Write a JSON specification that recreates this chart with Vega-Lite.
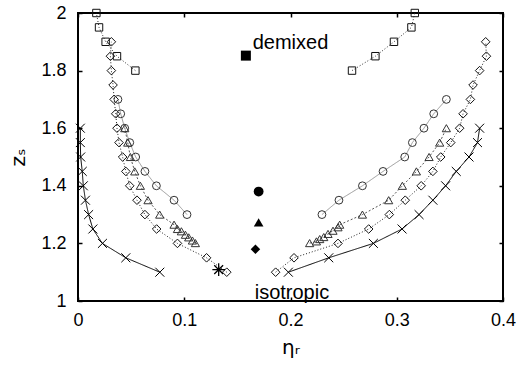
{
  "$schema": "https://vega.github.io/schema/vega-lite/v6.json",
  "width": 425,
  "height": 288,
  "autosize": {"type": "none"},
  "padding": {"left": 78, "top": 13, "right": 17, "bottom": 66},
  "background": "white",
  "config": {
    "view": {"stroke": "black", "strokeWidth": 2},
    "font": "Liberation Sans",
    "axis": {"grid": false, "domain": false, "labelFlush": false, "labelOverlap": false, "tickColor": "black", "tickWidth": 1.5, "labelColor": "black", "titleColor": "black", "labelFontSize": 18, "titleFontSize": 20, "titleFontWeight": "normal", "labelFont": "Liberation Sans", "titleFont": "DejaVu Sans"}
  },
  "datasets": {
    "curves": [
      {"s": "cross", "b": "crossL", "x": 0.0022, "y": 1.60},
      {"s": "cross", "b": "crossL", "x": 0.0022, "y": 1.55},
      {"s": "cross", "b": "crossL", "x": 0.0025, "y": 1.50},
      {"s": "cross", "b": "crossL", "x": 0.004, "y": 1.45},
      {"s": "cross", "b": "crossL", "x": 0.005, "y": 1.40},
      {"s": "cross", "b": "crossL", "x": 0.007, "y": 1.35},
      {"s": "cross", "b": "crossL", "x": 0.010, "y": 1.30},
      {"s": "cross", "b": "crossL", "x": 0.014, "y": 1.25},
      {"s": "cross", "b": "crossL", "x": 0.023, "y": 1.20},
      {"s": "cross", "b": "crossL", "x": 0.045, "y": 1.15},
      {"s": "cross", "b": "crossL", "x": 0.077, "y": 1.10},
      {"s": "cross", "b": "crossR", "x": 0.378, "y": 1.60},
      {"s": "cross", "b": "crossR", "x": 0.376, "y": 1.55},
      {"s": "cross", "b": "crossR", "x": 0.368, "y": 1.50},
      {"s": "cross", "b": "crossR", "x": 0.356, "y": 1.45},
      {"s": "cross", "b": "crossR", "x": 0.346, "y": 1.40},
      {"s": "cross", "b": "crossR", "x": 0.334, "y": 1.35},
      {"s": "cross", "b": "crossR", "x": 0.321, "y": 1.30},
      {"s": "cross", "b": "crossR", "x": 0.305, "y": 1.25},
      {"s": "cross", "b": "crossR", "x": 0.278, "y": 1.20},
      {"s": "cross", "b": "crossR", "x": 0.236, "y": 1.15},
      {"s": "cross", "b": "crossR", "x": 0.198, "y": 1.10},
      {"s": "diamond", "b": "diaL", "x": 0.0314, "y": 1.90},
      {"s": "diamond", "b": "diaL", "x": 0.0305, "y": 1.85},
      {"s": "diamond", "b": "diaL", "x": 0.0314, "y": 1.80},
      {"s": "diamond", "b": "diaL", "x": 0.033, "y": 1.75},
      {"s": "diamond", "b": "diaL", "x": 0.034, "y": 1.70},
      {"s": "diamond", "b": "diaL", "x": 0.0355, "y": 1.65},
      {"s": "diamond", "b": "diaL", "x": 0.0367, "y": 1.60},
      {"s": "diamond", "b": "diaL", "x": 0.0386, "y": 1.55},
      {"s": "diamond", "b": "diaL", "x": 0.042, "y": 1.50},
      {"s": "diamond", "b": "diaL", "x": 0.045, "y": 1.45},
      {"s": "diamond", "b": "diaL", "x": 0.0487, "y": 1.40},
      {"s": "diamond", "b": "diaL", "x": 0.0555, "y": 1.35},
      {"s": "diamond", "b": "diaL", "x": 0.063, "y": 1.30},
      {"s": "diamond", "b": "diaL", "x": 0.074, "y": 1.25},
      {"s": "diamond", "b": "diaL", "x": 0.0936, "y": 1.20},
      {"s": "diamond", "b": "diaL", "x": 0.121, "y": 1.15},
      {"s": "diamond", "b": "diaL", "x": 0.140, "y": 1.10},
      {"s": "diamond", "b": "diaR", "x": 0.3837, "y": 1.90},
      {"s": "diamond", "b": "diaR", "x": 0.3844, "y": 1.85},
      {"s": "diamond", "b": "diaR", "x": 0.378, "y": 1.80},
      {"s": "diamond", "b": "diaR", "x": 0.3718, "y": 1.75},
      {"s": "diamond", "b": "diaR", "x": 0.3693, "y": 1.70},
      {"s": "diamond", "b": "diaR", "x": 0.3624, "y": 1.65},
      {"s": "diamond", "b": "diaR", "x": 0.3592, "y": 1.60},
      {"s": "diamond", "b": "diaR", "x": 0.3508, "y": 1.55},
      {"s": "diamond", "b": "diaR", "x": 0.3414, "y": 1.50},
      {"s": "diamond", "b": "diaR", "x": 0.334, "y": 1.45},
      {"s": "diamond", "b": "diaR", "x": 0.323, "y": 1.40},
      {"s": "diamond", "b": "diaR", "x": 0.308, "y": 1.35},
      {"s": "diamond", "b": "diaR", "x": 0.293, "y": 1.30},
      {"s": "diamond", "b": "diaR", "x": 0.2736, "y": 1.25},
      {"s": "diamond", "b": "diaR", "x": 0.2447, "y": 1.20},
      {"s": "diamond", "b": "diaR", "x": 0.2033, "y": 1.15},
      {"s": "diamond", "b": "diaR", "x": 0.186, "y": 1.10},
      {"s": "triangle", "b": "triL", "x": 0.044, "y": 1.60},
      {"s": "triangle", "b": "triL", "x": 0.0468, "y": 1.55},
      {"s": "triangle", "b": "triL", "x": 0.0493, "y": 1.50},
      {"s": "triangle", "b": "triL", "x": 0.0534, "y": 1.45},
      {"s": "triangle", "b": "triL", "x": 0.0587, "y": 1.40},
      {"s": "triangle", "b": "triL", "x": 0.0659, "y": 1.35},
      {"s": "triangle", "b": "triL", "x": 0.0769, "y": 1.30},
      {"s": "triangle", "b": "triL", "x": 0.0904, "y": 1.265},
      {"s": "triangle", "b": "triL", "x": 0.0936, "y": 1.25},
      {"s": "triangle", "b": "triL", "x": 0.0973, "y": 1.242},
      {"s": "triangle", "b": "triL", "x": 0.1011, "y": 1.230},
      {"s": "triangle", "b": "triL", "x": 0.1042, "y": 1.221},
      {"s": "triangle", "b": "triL", "x": 0.1077, "y": 1.210},
      {"s": "triangle", "b": "triL", "x": 0.1105, "y": 1.201},
      {"s": "triangle", "b": "triR", "x": 0.3467, "y": 1.60},
      {"s": "triangle", "b": "triR", "x": 0.3404, "y": 1.55},
      {"s": "triangle", "b": "triR", "x": 0.3304, "y": 1.50},
      {"s": "triangle", "b": "triR", "x": 0.3185, "y": 1.45},
      {"s": "triangle", "b": "triR", "x": 0.3053, "y": 1.40},
      {"s": "triangle", "b": "triR", "x": 0.2924, "y": 1.35},
      {"s": "triangle", "b": "triR", "x": 0.2677, "y": 1.30},
      {"s": "triangle", "b": "triR", "x": 0.2463, "y": 1.265},
      {"s": "triangle", "b": "triR", "x": 0.2447, "y": 1.256},
      {"s": "triangle", "b": "triR", "x": 0.2400, "y": 1.244},
      {"s": "triangle", "b": "triR", "x": 0.2353, "y": 1.233},
      {"s": "triangle", "b": "triR", "x": 0.2313, "y": 1.222},
      {"s": "triangle", "b": "triR", "x": 0.2275, "y": 1.215},
      {"s": "triangle", "b": "triR", "x": 0.2244, "y": 1.207},
      {"s": "triangle", "b": "triR", "x": 0.2180, "y": 1.201},
      {"s": "circle", "b": "cirL", "x": 0.0376, "y": 1.70},
      {"s": "circle", "b": "cirL", "x": 0.0402, "y": 1.65},
      {"s": "circle", "b": "cirL", "x": 0.044, "y": 1.60},
      {"s": "circle", "b": "cirL", "x": 0.0487, "y": 1.55},
      {"s": "circle", "b": "cirL", "x": 0.0543, "y": 1.50},
      {"s": "circle", "b": "cirL", "x": 0.063, "y": 1.45},
      {"s": "circle", "b": "cirL", "x": 0.0738, "y": 1.40},
      {"s": "circle", "b": "cirL", "x": 0.0904, "y": 1.35},
      {"s": "circle", "b": "cirL", "x": 0.1026, "y": 1.30},
      {"s": "circle", "b": "cirR", "x": 0.2296, "y": 1.30},
      {"s": "circle", "b": "cirR", "x": 0.2456, "y": 1.35},
      {"s": "circle", "b": "cirR", "x": 0.2677, "y": 1.40},
      {"s": "circle", "b": "cirR", "x": 0.2871, "y": 1.45},
      {"s": "circle", "b": "cirR", "x": 0.3075, "y": 1.50},
      {"s": "circle", "b": "cirR", "x": 0.3147, "y": 1.55},
      {"s": "circle", "b": "cirR", "x": 0.3256, "y": 1.60},
      {"s": "circle", "b": "cirR", "x": 0.3348, "y": 1.65},
      {"s": "circle", "b": "cirR", "x": 0.3467, "y": 1.70},
      {"s": "square", "b": "sqL", "x": 0.0173, "y": 2.00},
      {"s": "square", "b": "sqL", "x": 0.0198, "y": 1.95},
      {"s": "square", "b": "sqL", "x": 0.026, "y": 1.90},
      {"s": "square", "b": "sqL", "x": 0.0367, "y": 1.85},
      {"s": "square", "b": "sqL", "x": 0.054, "y": 1.80},
      {"s": "square", "b": "sqR", "x": 0.317, "y": 2.00},
      {"s": "square", "b": "sqR", "x": 0.3138, "y": 1.95},
      {"s": "square", "b": "sqR", "x": 0.2974, "y": 1.90},
      {"s": "square", "b": "sqR", "x": 0.2799, "y": 1.85},
      {"s": "square", "b": "sqR", "x": 0.2579, "y": 1.80}
    ],
    "keys": [
      {"k": "square", "x": 0.158, "y": 1.852},
      {"k": "circle", "x": 0.170, "y": 1.38},
      {"k": "triangle", "x": 0.170, "y": 1.273},
      {"k": "diamond", "x": 0.167, "y": 1.18}
    ],
    "labels": [
      {"t": "demixed", "x": 0.1644, "y": 1.876},
      {"t": "isotropic", "x": 0.1663, "y": 1.008}
    ],
    "star": [{"x": 0.1324, "y": 1.109}]
  },
  "resolve": {"axis": {"x": "independent", "y": "independent"}, "scale": {"color": "independent", "size": "independent", "shape": "independent"}},
  "layer": [
    {
      "data": {"name": "curves"},
      "mark": {"type": "line", "strokeWidth": 1},
      "encoding": {
        "x": {"field": "x", "type": "quantitative", "scale": {"domain": [0, 0.4], "nice": false, "zero": false},
              "axis": {"orient": "bottom", "values": [0, 0.1, 0.2, 0.3, 0.4], "format": "~g", "tickSize": -4, "labelPadding": 14, "title": "ηᵣ", "titlePadding": 8}},
        "y": {"field": "y", "type": "quantitative", "scale": {"domain": [1, 2], "nice": false, "zero": false},
              "axis": {"orient": "left", "values": [1, 1.2, 1.4, 1.6, 1.8, 2], "format": "~g", "tickSize": -4, "labelPadding": 16, "title": "zₛ", "titlePadding": 12}},
        "detail": {"field": "b"},
        "order": {"field": "y", "type": "quantitative"},
        "color": {"field": "s", "type": "nominal", "legend": null,
                  "scale": {"domain": ["cross", "diamond", "triangle", "circle", "square"], "range": ["#000000", "#222222", "#555555", "#999999", "#333333"]}},
        "strokeDash": {"field": "s", "type": "nominal", "legend": null,
                  "scale": {"domain": ["cross", "diamond", "triangle", "circle", "square"], "range": [[1, 0], [1, 2], [2, 2], [1, 0], [1, 2]]}}
      }
    },
    {
      "data": {"name": "curves"},
      "mark": {"type": "point", "filled": false, "strokeWidth": 1, "opacity": 1},
      "encoding": {
        "x": {"field": "x", "type": "quantitative", "scale": {"domain": [0, 0.4], "nice": false, "zero": false},
              "axis": {"orient": "top", "values": [0, 0.1, 0.2, 0.3, 0.4], "labels": false, "tickSize": -4, "title": null}},
        "y": {"field": "y", "type": "quantitative", "scale": {"domain": [1, 2], "nice": false, "zero": false},
              "axis": {"orient": "right", "values": [1, 1.2, 1.4, 1.6, 1.8, 2], "labels": false, "tickSize": -4, "title": null}},
        "shape": {"field": "s", "type": "nominal", "legend": null,
                  "scale": {"domain": ["cross", "diamond", "triangle", "circle", "square"], "range": ["M-1,-1L1,1M-1,1L1,-1", "diamond", "triangle-up", "circle", "square"]}},
        "size": {"field": "s", "type": "nominal", "legend": null,
                  "scale": {"domain": ["cross", "diamond", "triangle", "circle", "square"], "range": [80, 55, 60, 80, 60]}},
        "color": {"field": "s", "type": "nominal", "legend": null,
                  "scale": {"domain": ["cross", "diamond", "triangle", "circle", "square"], "range": ["#000000", "#111111", "#333333", "#333333", "#111111"]}}
      }
    },
    {
      "data": {"name": "keys"},
      "mark": {"type": "point", "filled": true, "opacity": 1, "color": "black"},
      "encoding": {
        "x": {"field": "x", "type": "quantitative", "scale": {"domain": [0, 0.4], "nice": false, "zero": false}, "axis": null},
        "y": {"field": "y", "type": "quantitative", "scale": {"domain": [1, 2], "nice": false, "zero": false}, "axis": null},
        "shape": {"field": "k", "type": "nominal", "legend": null,
                  "scale": {"domain": ["square", "circle", "triangle", "diamond"], "range": ["square", "circle", "triangle-up", "diamond"]}},
        "size": {"field": "k", "type": "nominal", "legend": null,
                  "scale": {"domain": ["square", "circle", "triangle", "diamond"], "range": [100, 90, 75, 65]}}
      }
    },
    {
      "data": {"name": "star"},
      "mark": {"type": "point", "filled": false, "opacity": 1, "color": "black", "strokeWidth": 1.3, "size": 160,
               "shape": "M-1,0L1,0M0,-1L0,1M-0.7,-0.7L0.7,0.7M-0.7,0.7L0.7,-0.7"},
      "encoding": {
        "x": {"field": "x", "type": "quantitative", "scale": {"domain": [0, 0.4], "nice": false, "zero": false}, "axis": null},
        "y": {"field": "y", "type": "quantitative", "scale": {"domain": [1, 2], "nice": false, "zero": false}, "axis": null}
      }
    },
    {
      "data": {"name": "labels"},
      "mark": {"type": "text", "align": "left", "baseline": "alphabetic", "fontSize": 20, "font": "Liberation Sans", "color": "black"},
      "encoding": {
        "x": {"field": "x", "type": "quantitative", "scale": {"domain": [0, 0.4], "nice": false, "zero": false}, "axis": null},
        "y": {"field": "y", "type": "quantitative", "scale": {"domain": [1, 2], "nice": false, "zero": false}, "axis": null},
        "text": {"field": "t"}
      }
    }
  ]
}
